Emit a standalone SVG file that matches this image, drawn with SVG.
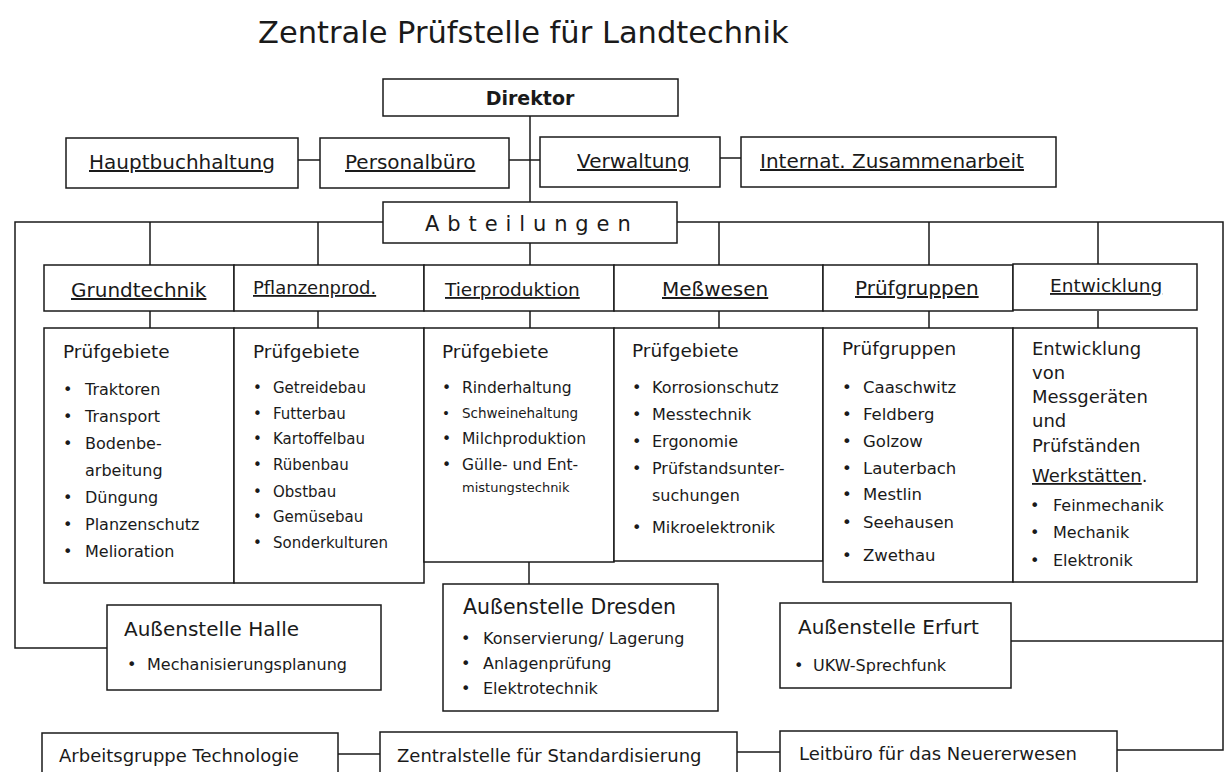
<svg xmlns="http://www.w3.org/2000/svg" width="1226" height="772" viewBox="0 0 1226 772">
<style>
text{font-family:"DejaVu Sans","Liberation Sans",sans-serif;fill:#1a1a1a}
.box{fill:#fff;stroke:#1a1a1a;stroke-width:1.5}
.ln{fill:none;stroke:#1a1a1a;stroke-width:1.5}
.h{font-size:20px;text-decoration:underline}
.t{font-size:18.5px}
.i{font-size:16px}
.b{font-size:20px}
.bt{font-size:18px}
</style>
<rect width="1226" height="772" fill="#fff"/>
<text x="258" y="43" style="font-size:30.5px">Zentrale Prüfstelle für Landtechnik</text>

<g id="connectors" class="ln">
<path d="M530 116V202"/>
<path d="M298 160H320M509 160H540M720 158H741"/>
<path d="M383 222H15V648H107"/>
<path d="M677 222H1223V750H1117"/>
<path d="M1011 641H1223"/>
<path d="M150 222V266M318 222V266M530 243V266M719 222V266M929 222V266M1098 222V266"/>
<path d="M150 311V328M318 311V328M530 311V328M719 311V328M929 311V328M1098 311V328"/>
<path d="M529 562V584"/>
<path d="M338 754H380M737 752H780"/>
</g>

<g id="direktor">
<rect class="box" x="383" y="79" width="295" height="37"/>
<text x="530" y="105" text-anchor="middle" style="font-size:19px;font-weight:bold">Direktor</text>
</g>

<g id="hauptbuchhaltung">
<rect class="box" x="66" y="138" width="232" height="50"/>
<text class="h" x="89" y="169">Hauptbuchhaltung</text>
</g>
<g id="personalbuero">
<rect class="box" x="320" y="138" width="189" height="50"/>
<text class="h" x="345" y="169">Personalbüro</text>
</g>
<g id="verwaltung">
<rect class="box" x="540" y="137" width="180" height="50"/>
<text class="h" x="577" y="168">Verwaltung</text>
</g>
<g id="internat">
<rect class="box" x="741" y="137" width="315" height="50"/>
<text class="h" x="760" y="168">Internat. Zusammenarbeit</text>
</g>

<g id="abteilungen">
<rect class="box" x="383" y="202" width="294" height="41"/>
<text x="425" y="231" style="font-size:21px;letter-spacing:7.9px">Abteilungen</text>
</g>

<g id="grundtechnik">
<rect class="box" x="44" y="265" width="190" height="46"/>
<text class="h" x="71" y="297">Grundtechnik</text>
<rect class="box" x="44" y="328" width="190" height="255"/>
<text class="t" x="63" y="358">Prüfgebiete</text>
<g class="i">
<text x="63" y="395">•<tspan x="85">Traktoren</tspan></text>
<text x="63" y="422">•<tspan x="85">Transport</tspan></text>
<text x="63" y="449">•<tspan x="85">Bodenbe-</tspan></text>
<text x="85" y="476">arbeitung</text>
<text x="63" y="503">•<tspan x="85">Düngung</tspan></text>
<text x="63" y="530">•<tspan x="85">Planzenschutz</tspan></text>
<text x="63" y="557">•<tspan x="85">Melioration</tspan></text>
</g>
</g>

<g id="pflanzenprod">
<rect class="box" x="234" y="265" width="190" height="46"/>
<text class="h" x="253" y="294" style="font-size:18px">Pflanzenprod.</text>
<rect class="box" x="234" y="328" width="190" height="255"/>
<text class="t" x="253" y="358">Prüfgebiete</text>
<g style="font-size:15px">
<text x="253" y="393">•<tspan x="273">Getreidebau</tspan></text>
<text x="253" y="419">•<tspan x="273">Futterbau</tspan></text>
<text x="253" y="444">•<tspan x="273">Kartoffelbau</tspan></text>
<text x="253" y="470">•<tspan x="273">Rübenbau</tspan></text>
<text x="253" y="497">•<tspan x="273">Obstbau</tspan></text>
<text x="253" y="522">•<tspan x="273">Gemüsebau</tspan></text>
<text x="253" y="548">•<tspan x="273">Sonderkulturen</tspan></text>
</g>
</g>

<g id="tierproduktion">
<rect class="box" x="424" y="265" width="190" height="46"/>
<text class="h" x="445" y="296" style="font-size:18.5px">Tierproduktion</text>
<rect class="box" x="424" y="328" width="190" height="234"/>
<text class="t" x="442" y="358">Prüfgebiete</text>
<text x="442" y="393" style="font-size:15.5px">•<tspan x="462">Rinderhaltung</tspan></text>
<text x="442" y="418" style="font-size:13.5px">•<tspan x="462">Schweinehaltung</tspan></text>
<text x="442" y="444" style="font-size:15.5px">•<tspan x="462">Milchproduktion</tspan></text>
<text x="442" y="470" style="font-size:15.5px">•<tspan x="462">Gülle- und Ent-</tspan></text>
<text x="462" y="492" style="font-size:13px">mistungstechnik</text>
</g>

<g id="messwesen">
<rect class="box" x="614" y="265" width="209" height="46"/>
<text class="h" x="662" y="296">Meßwesen</text>
<rect class="box" x="614" y="328" width="209" height="233"/>
<text class="t" x="632" y="357">Prüfgebiete</text>
<g class="i">
<text x="632" y="393">•<tspan x="652">Korrosionschutz</tspan></text>
<text x="632" y="420">•<tspan x="652">Messtechnik</tspan></text>
<text x="632" y="447">•<tspan x="652">Ergonomie</tspan></text>
<text x="632" y="474">•<tspan x="652">Prüfstandsunter-</tspan></text>
<text x="652" y="501">suchungen</text>
<text x="632" y="533">•<tspan x="652">Mikroelektronik</tspan></text>
</g>
</g>

<g id="pruefgruppen">
<rect class="box" x="823" y="265" width="190" height="46"/>
<text class="h" x="855" y="295">Prüfgruppen</text>
<rect class="box" x="823" y="328" width="190" height="254"/>
<text class="t" x="842" y="355">Prüfgruppen</text>
<g style="font-size:16.5px">
<text x="842" y="393">•<tspan x="863">Caaschwitz</tspan></text>
<text x="842" y="420">•<tspan x="863">Feldberg</tspan></text>
<text x="842" y="447">•<tspan x="863">Golzow</tspan></text>
<text x="842" y="474">•<tspan x="863">Lauterbach</tspan></text>
<text x="842" y="500">•<tspan x="863">Mestlin</tspan></text>
<text x="842" y="528">•<tspan x="863">Seehausen</tspan></text>
<text x="842" y="561">•<tspan x="863">Zwethau</tspan></text>
</g>
</g>

<g id="entwicklung">
<rect class="box" x="1013" y="264" width="184" height="46"/>
<text class="h" x="1050" y="292" style="font-size:18.5px">Entwicklung</text>
<rect class="box" x="1013" y="328" width="184" height="254"/>
<g style="font-size:18px">
<text x="1032" y="355">Entwicklung</text>
<text x="1032" y="379">von</text>
<text x="1032" y="403">Messgeräten</text>
<text x="1032" y="427">und</text>
<text x="1032" y="452">Prüfständen</text>
<text x="1032" y="482"><tspan text-decoration="underline">Werkstätten</tspan>.</text>
</g>
<g class="i">
<text x="1030" y="511">•<tspan x="1053">Feinmechanik</tspan></text>
<text x="1030" y="538">•<tspan x="1053">Mechanik</tspan></text>
<text x="1030" y="566">•<tspan x="1053">Elektronik</tspan></text>
</g>
</g>

<g id="aussenstelle-halle">
<rect class="box" x="107" y="605" width="274" height="85"/>
<text class="b" x="124" y="636">Außenstelle Halle</text>
<text class="i" x="127" y="670">•<tspan x="147">Mechanisierungsplanung</tspan></text>
</g>

<g id="aussenstelle-dresden">
<rect class="box" x="443" y="584" width="275" height="127"/>
<text x="463" y="614" style="font-size:20.5px">Außenstelle Dresden</text>
<g class="i">
<text x="461" y="644">•<tspan x="483">Konservierung/ Lagerung</tspan></text>
<text x="461" y="669">•<tspan x="483">Anlagenprüfung</tspan></text>
<text x="461" y="694">•<tspan x="483">Elektrotechnik</tspan></text>
</g>
</g>

<g id="aussenstelle-erfurt">
<rect class="box" x="780" y="603" width="231" height="85"/>
<text class="b" x="798" y="634">Außenstelle Erfurt</text>
<text class="i" x="794" y="671">•<tspan x="813">UKW-Sprechfunk</tspan></text>
</g>

<g id="arbeitsgruppe">
<rect class="box" x="42" y="733" width="296" height="60"/>
<text class="bt" x="59" y="762">Arbeitsgruppe Technologie</text>
</g>
<g id="zentralstelle">
<rect class="box" x="380" y="732" width="357" height="60"/>
<text class="bt" x="397" y="762">Zentralstelle für Standardisierung</text>
</g>
<g id="leitbuero">
<rect class="box" x="780" y="731" width="337" height="60"/>
<text class="bt" x="799" y="760">Leitbüro für das Neuererwesen</text>
</g>
</svg>
